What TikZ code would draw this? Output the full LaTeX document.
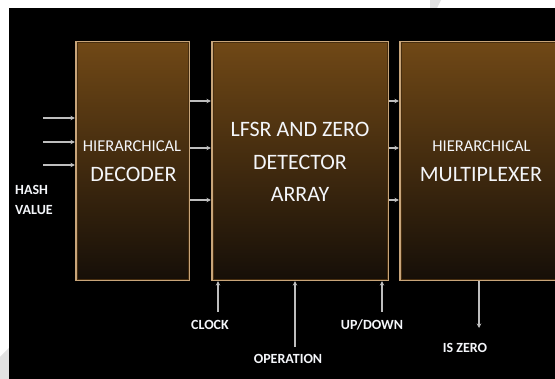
\documentclass[tikz,border=0pt]{standalone}
\usepackage{fontspec}
\setmainfont{Carlito}
\usetikzlibrary{arrows.meta,calc}
\definecolor{bordertan}{RGB}{200,165,122}
\definecolor{innerdark}{RGB}{70,45,15}
\definecolor{boxtop}{RGB}{112,72,22}
\definecolor{boxbot}{RGB}{22,15,8}
\definecolor{wire}{RGB}{190,190,190}
\definecolor{txt}{RGB}{244,246,250}
\definecolor{wmark}{RGB}{226,226,226}
\tikzset{
  blockbox/.style={draw=bordertan, line width=2.2pt, top color=boxtop, bottom color=boxbot,
    minimum height=238pt, inner sep=0pt, rectangle},
  boxtext/.style={text=txt, font=\fontsize{22}{24}\selectfont, anchor=base, inner sep=0pt},
  smalltext/.style={text=txt, font=\fontsize{16.5}{18}\selectfont, anchor=base, inner sep=0pt},
  sigtext/.style={text=txt, font=\bfseries\fontsize{14}{16}\selectfont, anchor=base, inner sep=0pt},
  sigwire/.style={draw=wire, line width=1.2pt, -{Stealth[length=4.5pt,width=4.5pt]}}
}
\begin{document}
\begin{tikzpicture}[x=1pt,y=-1pt]
\useasboundingbox (0,0) rectangle (555,379);
\clip (0,0) rectangle (555,379);
\fill[white] (0,0) rectangle (555,379);
\fill[wmark] (0,357) -- (9,348) -- (9,379) -- (0,379) -- cycle;
\fill[wmark] (430,0) -- (441,0) -- (437,8) -- (430,8) -- cycle;
\fill[black] (9,8) rectangle (555,379);

% blocks
\node[blockbox, minimum width=113pt] (dec) at (132.5,161) {};
\node[blockbox, minimum width=176pt] (lfsr) at (300,161) {};
\node[blockbox, minimum width=162pt] (mux) at (481,161) {};
\foreach \b in {dec,lfsr,mux}{
  \draw[innerdark, line width=0.8pt] ($(\b.north west)+(2,2)$) rectangle ($(\b.south east)+(-2,-2)$);
}

% block texts
\node[smalltext] (dech) at (132,151.3) {HIERARCHICAL};
\node[boxtext] (decd) at (133.5,182) {DECODER};
\node[boxtext] (lf1) at (300,137) {LFSR AND ZERO};
\node[boxtext] (lf2) at (300,170) {DETECTOR};
\node[boxtext] (lf3) at (300,202) {ARRAY};
\node[smalltext] (muxh) at (481.5,151.3) {HIERARCHICAL};
\node[boxtext] (muxm) at (481,182) {MULTIPLEXER};

% signal labels
\node[sigtext, anchor=base west] (hash) at (15,194.5) {HASH};
\node[sigtext, anchor=base west] (value) at (15,214.5) {VALUE};
\node[sigtext] (clk) at (210,329.5) {CLOCK};
\node[sigtext] (updn) at (372,329.5) {UP/DOWN};
\node[sigtext] (oper) at (288,363.5) {OPERATION};
\node[sigtext] (iszero) at (465,352.5) {IS ZERO};

% input wires
\foreach \yy/\n in {118/a,142/b,165/c}{
  \coordinate (in\n) at (43,\yy);
  \draw[sigwire] (in\n) -- (in\n -| dec.west);
}
% inter-block wires
\foreach \yy/\n in {101/a,148/b,200/c}{
  \coordinate (m\n) at (200,\yy);
  \draw[sigwire] (m\n -| dec.east) -- (m\n -| lfsr.west);
  \draw[sigwire] (m\n -| lfsr.east) -- (m\n -| mux.west);
}
% control wires
\coordinate (clks) at (218,312);
\coordinate (ops) at (295,347);
\coordinate (uds) at (382,312);
\coordinate (isz) at (479,328);
\draw[sigwire] (clks) -- (clks |- lfsr.south);
\draw[sigwire] (ops) -- (ops |- lfsr.south);
\draw[sigwire] (uds) -- (uds |- lfsr.south);
\draw[sigwire] (isz |- mux.south) -- (isz);
\end{tikzpicture}
\end{document}
